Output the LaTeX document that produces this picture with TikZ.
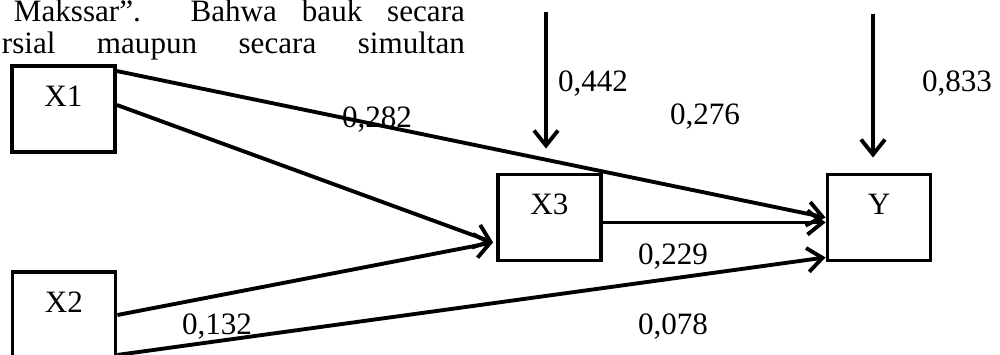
\documentclass[tikz,border=0pt]{standalone}
\usepackage{fontspec}
\setmainfont{Liberation Serif}
\usetikzlibrary{arrows.meta,calc}
\tikzset{
  var/.style={draw, line width=2.2pt, minimum width=2.06cm, minimum height=1.72cm,
    text height=0.4cm, text depth=0.5cm, inner sep=0pt},
  coef/.style={anchor=base, inner sep=0pt}
}

\begin{document}
\begin{tikzpicture}[>={Straight Barb[length=0.3cm,width=0.48cm]}, line width=2.2pt,
    font=\fontsize{17.7}{21}\selectfont]
      \useasboundingbox (0,0) rectangle (20,7.1);
      \clip (0,0) rectangle (20,7.1);
      % text of the page above the figure
      \node[anchor=base west, inner sep=0pt] (line1) at (0.24,6.66) {\makebox[9.02cm]{Makssar”.\hfill\hfill Bahwa\hfill bauk\hfill secara}};
      \node[anchor=base west, inner sep=0pt] (line2) at (0,6.02) {\makebox[9.26cm]{rsial\hfill maupun\hfill secara\hfill simultan}};
      % variables
      \node[var] (X1) at (1.27,4.92) {X1};
      \node[var] (X2) at (1.28,0.80) {X2};
      \node[var] (X3) at (10.99,2.75) {X3};
      \node[var] (Y) at (17.58,2.75) {Y};
      \coordinate (e3) at (10.92,6.86);  % error X3
      \coordinate (ey) at (17.46,6.82);  % error Y
      \draw[->, shorten >=0.48cm] (e3) -- (e3 |- X3.north);
      \draw[->, shorten >=0.3cm] (ey) -- (ey |- Y.north);
      \draw[->] ($(X1.north east)+(0,-0.14)$) -- (Y.west);
      \draw[->] ($(X1.east)+(0,0.08)$) -- ($(X3.south west)+(-0.06,0.4)$);
      \draw[->] (X2.east) -- ($(X3.south west)+(-0.06,0.4)$);
      \draw[->] ($(X2.south east)+(0,0.1)$) -- ($(Y.south west)+(0,0.1)$);
      \draw[->] ($(X3.east)+(0,-0.1)$) -- ($(Y.west)+(0,-0.1)$);
      % path coefficients
      \node[coef] (c1) at (7.54,4.54) {0,282};
      \node[coef] (c2) at (11.86,5.26) {0,442};
      \node[coef] (c3) at (14.10,4.60) {0,276};
      \node[coef] (c4) at (19.14,5.26) {0,833};
      \node[coef] (c5) at (13.46,1.80) {0,229};
      \node[coef] (c6) at (4.34,0.40) {0,132};
      \node[coef] (c7) at (13.46,0.40) {0,078};
\end{tikzpicture}
\end{document}
